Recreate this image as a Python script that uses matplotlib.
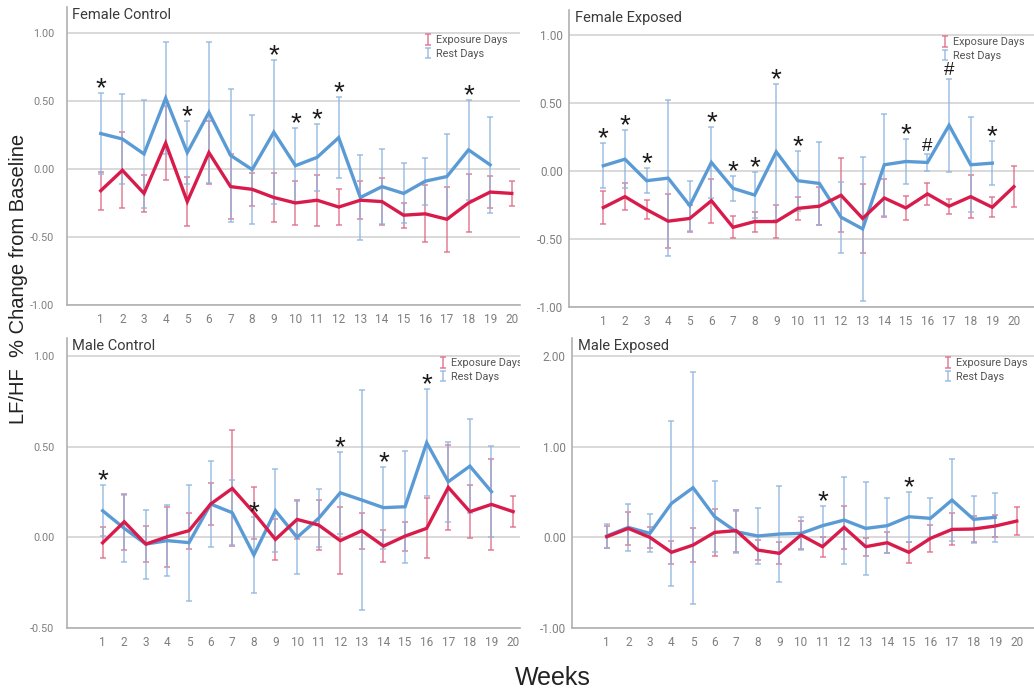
import numpy as np
import matplotlib
matplotlib.use("Agg")
import matplotlib.pyplot as plt

weeks = list(range(1, 21))
week_labels = [str(w) for w in weeks]

# Female Control
fc_exp_mean = [-0.16, -0.01, -0.18, 0.19, -0.24, 0.12, -0.13, -0.15, -0.21, -0.25,
               -0.23, -0.28, -0.23, -0.24, -0.34, -0.33, -0.37, -0.25, -0.17, -0.18]
fc_exp_err = [0.14, 0.28, 0.135, 0.275, 0.18, 0.23, 0.24, 0.12, 0.18, 0.16,
              0.186, 0.135, 0.14, 0.17, 0.093, 0.21, 0.24, 0.21, 0.12, 0.09]
fc_rest_mean = [0.26, 0.22, 0.11, 0.52, 0.12, 0.415, 0.10, -0.005, 0.27, 0.024,
                0.085, 0.23, -0.21, -0.13, -0.18, -0.09, -0.056, 0.14, 0.03]
fc_rest_err = [0.30, 0.33, 0.40, 0.41, 0.23, 0.52, 0.49, 0.40, 0.53, 0.274,
               0.244, 0.30, 0.31, 0.275, 0.22, 0.173, 0.31, 0.366, 0.353]
fc_stars = [1, 5, 9, 10, 11, 12, 18]
fc_hash = []

# Female Exposed
fe_exp_mean = [-0.27, -0.19, -0.285, -0.37, -0.35, -0.22, -0.415, -0.373, -0.373, -0.276,
               -0.26, -0.18, -0.35, -0.20, -0.273, -0.17, -0.26, -0.19, -0.268, -0.117]
fe_exp_err = [0.122, 0.10, 0.07, 0.20, 0.10, 0.163, 0.08, 0.073, 0.12, 0.085,
              0.14, 0.27, 0.25, 0.14, 0.085, 0.08, 0.056, 0.16, 0.073, 0.15]
fe_rest_mean = [0.037, 0.085, -0.073, -0.054, -0.256, 0.061, -0.129, -0.178, 0.139, -0.073,
                -0.093, -0.341, -0.427, 0.044, 0.068, 0.061, 0.334, 0.044, 0.056]
fe_rest_err = [0.165, 0.213, 0.09, 0.57, 0.183, 0.26, 0.092, 0.166, 0.50, 0.22,
               0.305, 0.26, 0.53, 0.375, 0.164, 0.06, 0.34, 0.35, 0.16]
fe_stars = [1, 2, 3, 6, 7, 8, 9, 10, 15, 19]
fe_hash = [16, 17]

# Male Control
mc_exp_mean = [-0.03, 0.086, -0.037, 0.004, 0.037, 0.184, 0.27, 0.136, -0.011, 0.099,
               0.068, -0.018, 0.037, -0.048, 0.007, 0.05, 0.276, 0.142, 0.182, 0.142]
mc_exp_err = [0.085, 0.153, 0.10, 0.166, 0.10, 0.114, 0.32, 0.144, 0.114, 0.107,
              0.138, 0.185, 0.10, 0.09, 0.08, 0.165, 0.236, 0.148, 0.25, 0.086]
mc_rest_mean = [0.147, 0.05, -0.037, -0.018, -0.029, 0.184, 0.136, -0.097, 0.147, 0.0,
                0.105, 0.246, 0.206, 0.164, 0.169, 0.522, 0.307, 0.393, 0.252]
mc_rest_err = [0.14, 0.185, 0.19, 0.195, 0.32, 0.237, 0.18, 0.21, 0.23, 0.20,
               0.16, 0.226, 0.607, 0.226, 0.31, 0.294, 0.22, 0.26, 0.25]
mc_stars = [1, 8, 12, 14, 16]
mc_hash = []

# Male Exposed
me_exp_mean = [0.007, 0.099, 0.0, -0.165, -0.085, 0.055, 0.074, -0.14, -0.176, 0.026,
               -0.103, 0.11, -0.103, -0.059, -0.165, -0.011, 0.088, 0.092, 0.125, 0.18]
me_exp_err = [0.12, 0.18, 0.12, 0.13, 0.185, 0.26, 0.23, 0.11, 0.12, 0.155,
              0.11, 0.236, 0.10, 0.117, 0.115, 0.147, 0.177, 0.14, 0.12, 0.15]
me_rest_mean = [0.015, 0.11, 0.044, 0.375, 0.548, 0.228, 0.0625, 0.015, 0.037, 0.044,
                0.129, 0.191, 0.099, 0.129, 0.228, 0.21, 0.412, 0.199, 0.221]
me_rest_err = [0.13, 0.26, 0.21, 0.91, 1.28, 0.39, 0.23, 0.31, 0.53, 0.18,
               0.217, 0.48, 0.515, 0.30, 0.276, 0.22, 0.45, 0.26, 0.27]
me_stars = [11, 15]
me_hash = []

W, H = 1034, 694
RED = "#d81b4a"
BLUE = "#5b9bd5"
RED_BAR = "#e06a86"
BLUE_BAR = "#8fb4de"
GRID = "#d9d9d9"
TICK = "#7f7f7f"
UI_FONT = ["Roboto", "DejaVu Sans"]

# box = (left, right, top, bottom) in pixels; legend = (x, top) in pixels
panels = [
    dict(title="Female Control", box=(67, 520, 7, 305), ylim=(-1.0, 1.19),
         yticks=[-1.0, -0.5, 0.0, 0.5, 1.0], xlim=(-0.56, 20.38), ypad=9, ysize=7.8,
         legend=(425, 35),
         exp=(fc_exp_mean, fc_exp_err), rest=(fc_rest_mean, fc_rest_err),
         stars=fc_stars, hashes=fc_hash),
    dict(title="Female Exposed", box=(569, 1034, 10, 307), ylim=(-1.0, 1.18),
         yticks=[-1.0, -0.5, 0.0, 0.5, 1.0], xlim=(-0.59, 20.93), ypad=4.5, ysize=8.5,
         legend=(942, 37),
         exp=(fe_exp_mean, fe_exp_err), rest=(fe_rest_mean, fe_rest_err),
         stars=fe_stars, hashes=fe_hash),
    dict(title="Male Control", box=(67, 520, 338, 628), ylim=(-0.5, 1.10),
         yticks=[-0.5, 0.0, 0.5, 1.0], xlim=(-0.65, 20.32), ypad=9, ysize=7.8,
         legend=(440, 358),
         exp=(mc_exp_mean, mc_exp_err), rest=(mc_rest_mean, mc_rest_err),
         stars=mc_stars, hashes=mc_hash),
    dict(title="Male Exposed", box=(572, 1034, 338, 628), ylim=(-1.0, 2.2),
         yticks=[-1.0, 0.0, 1.0, 2.0], xlim=(-0.61, 20.8), ypad=4.5, ysize=8.5,
         legend=(945, 358),
         exp=(me_exp_mean, me_exp_err), rest=(me_rest_mean, me_rest_err),
         stars=me_stars, hashes=me_hash),
]

fig = plt.figure(figsize=(W / 100, H / 100), dpi=100)

for p in panels:
    x0, x1, y0, y1 = p["box"]
    ax = fig.add_axes([x0 / W, 1 - y1 / H, (x1 - x0) / W, (y1 - y0) / H])
    ax.set_xlim(*p["xlim"])
    ax.set_ylim(*p["ylim"])

    exp_m, exp_e = p["exp"]
    rest_m, rest_e = p["rest"]
    xe = weeks[:len(exp_m)]
    xr = weeks[:len(rest_m)]

    ax.errorbar(xe, exp_m, yerr=exp_e, fmt="none", ecolor=RED_BAR, elinewidth=1.1,
                capsize=2.5, capthick=1.1, alpha=0.85, label="Exposure Days", zorder=2)
    ax.errorbar(xr, rest_m, yerr=rest_e, fmt="none", ecolor=BLUE_BAR, elinewidth=1.1,
                capsize=2.5, capthick=1.1, alpha=0.85, label="Rest Days", zorder=2)
    ax.plot(xe, exp_m, color=RED, lw=2.4, zorder=4, solid_joinstyle="miter")
    ax.plot(xr, rest_m, color=BLUE, lw=2.4, zorder=3, solid_joinstyle="miter")

    # significance markers just above the rest-day upper whisker
    upper = {w: m + e for w, m, e in zip(xr, rest_m, rest_e)}
    for w in p["stars"]:
        ax.annotate("*", (w, upper[w]), xytext=(0, -2.3), textcoords="offset points",
                    ha="center", va="baseline", fontsize=20, color="#1a1a1a",
                    family="Liberation Sans", zorder=6)
    for w in p["hashes"]:
        ax.annotate("#", (w, upper[w]), xytext=(0, 2.5), textcoords="offset points",
                    ha="center", va="baseline", fontsize=13.5, color="#1a1a1a",
                    family="Liberation Sans", zorder=6)

    ax.set_yticks(p["yticks"])
    ax.set_yticklabels([f"{v:.2f}" for v in p["yticks"]])
    ax.set_xticks(weeks)
    ax.set_xticklabels(week_labels)
    ax.tick_params(length=0, labelcolor=TICK)
    ax.tick_params(axis="x", labelsize=8.5, pad=6)
    ax.tick_params(axis="y", labelsize=p["ysize"], pad=p["ypad"])
    for lab in ax.get_xticklabels() + ax.get_yticklabels():
        lab.set_family(UI_FONT)

    ax.grid(axis="y", color=GRID, lw=1.4)
    ax.set_axisbelow(True)
    for side in ("top", "right"):
        ax.spines[side].set_visible(False)
    for side in ("left", "bottom"):
        ax.spines[side].set_color("#b0b0b0")
        ax.spines[side].set_linewidth(1.2)

    ax.text(0.012, 0.995, p["title"], transform=ax.transAxes, ha="left", va="top",
            fontsize=10.5, color="#3a3a3a", family=UI_FONT)

    lx, ly = p["legend"]
    leg = ax.legend(loc="upper left",
                    bbox_to_anchor=((lx - x0) / (x1 - x0), 1 - (ly - y0) / (y1 - y0)),
                    frameon=False, handlelength=0.6, handletextpad=0.4,
                    labelspacing=0.35, borderaxespad=0, borderpad=0,
                    prop={"family": UI_FONT, "size": 7.8})
    for t in leg.get_texts():
        t.set_color("#555555")
        t.set_clip_box(ax.bbox)
        t.set_clip_on(True)

fig.text(19 / W, 1 - 279 / H, "LF/HF  % Change from Baseline", rotation=90,
         ha="center", va="center", fontsize=14.5, color="#222222", family="Liberation Sans")
fig.text(553 / W, 1 - 678 / H, "Weeks", ha="center", va="center", fontsize=18,
         color="#222222", family="Liberation Sans")

fig.savefig("out.png", dpi=100, facecolor="white")
